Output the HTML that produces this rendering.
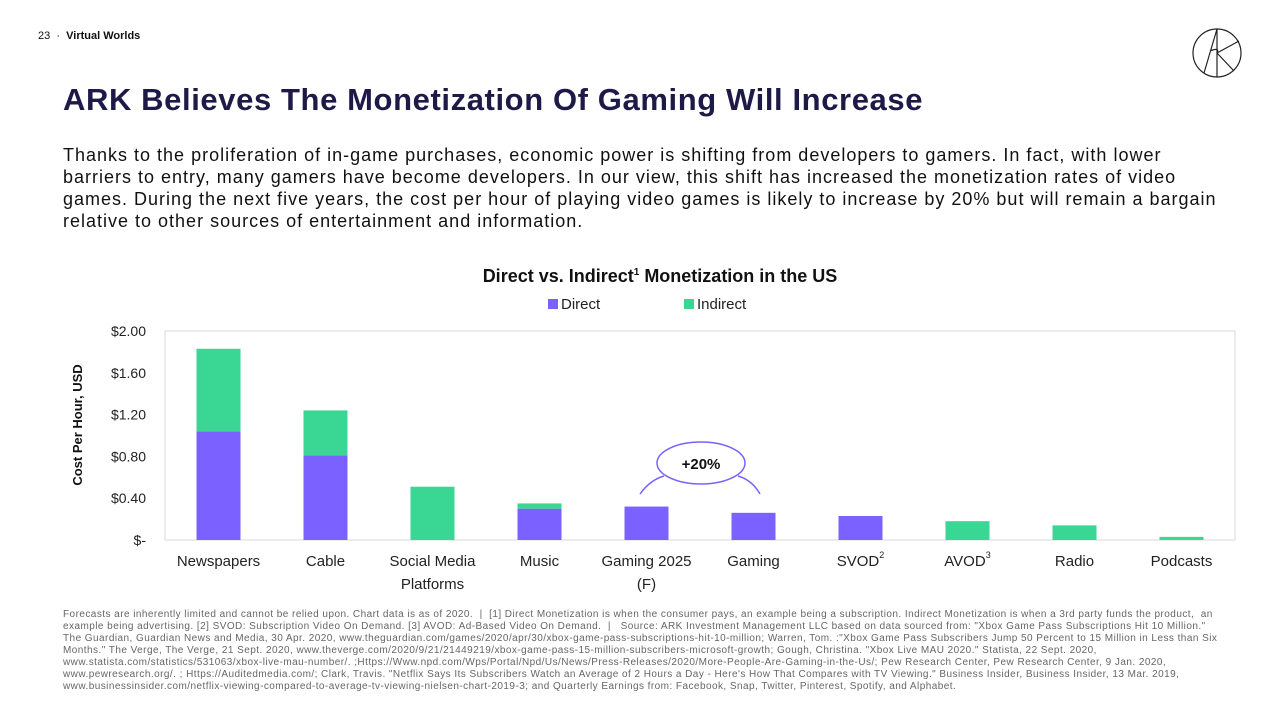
<!DOCTYPE html>
<html><head><meta charset="utf-8"><style>
body{margin:0;width:1280px;height:720px;background:#fff;font-family:"Liberation Sans",sans-serif;position:relative;overflow:hidden;color:#111}
.abs{position:absolute}
.nw{white-space:nowrap}
</style></head><body>
<div class="abs" style="left:38px;top:30px;font-size:11px">23 &nbsp;·&nbsp; <b>Virtual Worlds</b></div>
<svg class="abs" style="left:1190px;top:27px" width="54" height="52" viewBox="0 0 54 52"><circle cx="27" cy="26" r="24" fill="none" stroke="#222" stroke-width="1.2"/><path d="M27 2 L14 46 M27 2 L27 50 M27 26 L49 14 M27 26 L44 44 M20 24 Q30 20 27 26" fill="none" stroke="#222" stroke-width="1.2"/></svg>
<div class="abs nw" style="left:63px;top:82px;font-size:31px;font-weight:bold;color:#1e1a48;letter-spacing:0.6px">ARK Believes The Monetization Of Gaming Will Increase</div>
<div class="abs nw" style="left:63px;top:144px;font-size:18px;line-height:22px;color:#111;letter-spacing:1px">Thanks to the proliferation of in-game purchases, economic power is shifting from developers to gamers. In fact, with lower<br>barriers to entry, many gamers have become developers. In our view, this shift has increased the monetization rates of video<br>games. During the next five years, the cost per hour of playing video games is likely to increase by 20% but will remain a bargain<br>relative to other sources of entertainment and information.</div>
<svg class="abs" id="chart" style="left:0;top:0" width="1280" height="600"></svg>
<div class="abs nw" style="left:63px;top:609px;font-size:10px;line-height:12px;color:#666;letter-spacing:0.45px">Forecasts are inherently limited and cannot be relied upon. Chart data is as of 2020. &nbsp;| &nbsp;[1] Direct Monetization is when the consumer pays, an example being a subscription. Indirect Monetization is when a 3rd party funds the product, &nbsp;an<br>example being advertising. [2] SVOD: Subscription Video On Demand. [3] AVOD: Ad-Based Video On Demand. &nbsp;| &nbsp; Source: ARK Investment Management LLC based on data sourced from: "Xbox Game Pass Subscriptions Hit 10 Million."<br>The Guardian, Guardian News and Media, 30 Apr. 2020, www.theguardian.com/games/2020/apr/30/xbox-game-pass-subscriptions-hit-10-million; Warren, Tom. :"Xbox Game Pass Subscribers Jump 50 Percent to 15 Million in Less than Six<br>Months." The Verge, The Verge, 21 Sept. 2020, www.theverge.com/2020/9/21/21449219/xbox-game-pass-15-million-subscribers-microsoft-growth; Gough, Christina. "Xbox Live MAU 2020." Statista, 22 Sept. 2020,<br>www.statista.com/statistics/531063/xbox-live-mau-number/. ;Https://Www.npd.com/Wps/Portal/Npd/Us/News/Press-Releases/2020/More-People-Are-Gaming-in-the-Us/; Pew Research Center, Pew Research Center, 9 Jan. 2020,<br>www.pewresearch.org/. ; Https://Auditedmedia.com/; Clark, Travis. "Netflix Says Its Subscribers Watch an Average of 2 Hours a Day - Here's How That Compares with TV Viewing." Business Insider, Business Insider, 13 Mar. 2019,<br>www.businessinsider.com/netflix-viewing-compared-to-average-tv-viewing-nielsen-chart-2019-3; and Quarterly Earnings from: Facebook, Snap, Twitter, Pinterest, Spotify, and Alphabet.</div>
<script>
const categories=["Newspapers","Cable","Social Media|Platforms","Music","Gaming 2025|(F)","Gaming","SVOD","AVOD","Radio","Podcasts"];
const superscripts=["","","","","","","2","3","",""];
const directValues=[1.04,0.81,0,0.30,0.32,0.26,0.23,0,0,0];
const indirectValues=[0.79,0.43,0.51,0.05,0,0,0,0.18,0.14,0.03];
const tickValues=[0,0.4,0.8,1.2,1.6,2.0];
const tickLabels=["$-","$0.40","$0.80","$1.20","$1.60","$2.00"];
const NS="http://www.w3.org/2000/svg";
const svg=document.getElementById('chart');
const x0=165,x1=1235,y0=540,yTop=331,ymax=2.0;
const y=v=>y0-(v/ymax)*(y0-yTop);
const step=(x1-x0)/categories.length;
const xc=i=>x0+step*(i+0.5);
const bw=44;
function mk(t,a,txt){const e=document.createElementNS(NS,t);for(const k in a)e.setAttribute(k,a[k]);if(txt!==undefined)e.textContent=txt;svg.appendChild(e);return e;}
let e;
e=mk('text',{x:660,y:282,'text-anchor':'middle','font-size':18,'font-weight':'bold',fill:'#111'});


e.innerHTML='Direct vs. Indirect<tspan font-size="10" dy="-7">1</tspan><tspan dy="7"> Monetization in the US</tspan>';
e=mk('rect',{x:548,y:299,width:10,height:10,fill:'#7b61ff'});


e=mk('text',{x:561,y:309,'font-size':15,fill:'#222'},'Direct');


e=mk('rect',{x:684,y:299,width:10,height:10,fill:'#3ad694'});


e=mk('text',{x:697,y:309,'font-size':15,fill:'#222'},'Indirect');


e=mk('rect',{x:x0,y:yTop,width:x1-x0,height:y0-yTop,fill:'none',stroke:'#d9d9d9'});


tickValues.forEach((v,i)=>{
 e=mk('text',{x:146,y:y(v)+5,'text-anchor':'end','font-size':14,fill:'#222'},tickLabels[i]);
 
 
});
e=mk('text',{x:0,y:0,transform:'translate(82,425) rotate(-90)','text-anchor':'middle','font-size':13,'font-weight':'bold',fill:'#111'},'Cost Per Hour, USD');


categories.forEach((c,i)=>{
 const d=directValues[i],ind=indirectValues[i];
 if(d>0){e=mk('rect',{x:xc(i)-bw/2,y:y(d),width:bw,height:y0-y(d),fill:'#7b61ff'});
 
 }
 if(ind>0){e=mk('rect',{x:xc(i)-bw/2,y:y(d+ind),width:bw,height:y(d)-y(d+ind),fill:'#3ad694'});
 
 }
 const lines=c.split('|');
 lines.forEach((l,j)=>{
  e=mk('text',{x:xc(i),y:566+j*23,'text-anchor':'middle','font-size':15,fill:'#222'},l);
  
  
  if(j===0&&superscripts[i]){e.innerHTML=l+'<tspan font-size="9" dy="-8">'+superscripts[i]+'</tspan>';}
 });
});
e=mk('ellipse',{cx:701,cy:463,rx:44,ry:21,fill:'#fff',stroke:'#7b61ff','stroke-width':1.5});


e=mk('text',{x:701,y:469,'text-anchor':'middle','font-size':15,'font-weight':'bold',fill:'#111'},'+20%');


e=mk('path',{d:'M640 494 Q650 480 664 476 M738 476 Q752 480 760 494',fill:'none',stroke:'#7b61ff','stroke-width':1.5});


</script>
</body></html>
